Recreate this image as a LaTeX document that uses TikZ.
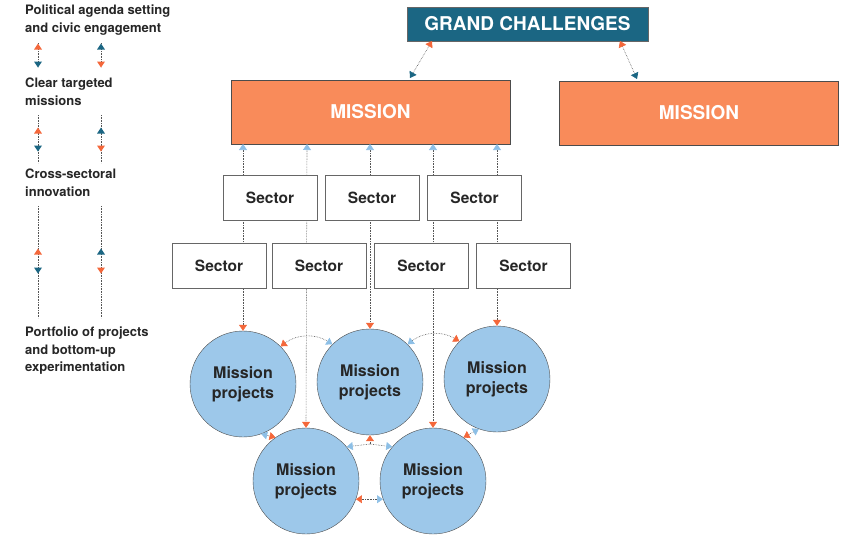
\documentclass[tikz,border=0pt]{standalone}
\usepackage{fontspec}
\setmainfont{TeX Gyre Heros}
\usetikzlibrary{arrows.meta}
\definecolor{org}{HTML}{F4673A}
\definecolor{mfill}{HTML}{F98B5A}
\definecolor{teal}{HTML}{1B6683}
\definecolor{lblue}{HTML}{8DBFE6}
\definecolor{cfill}{HTML}{9DC8EA}
\definecolor{dgray}{HTML}{555555}
\tikzset{
  x=1pt,y=-1pt,
  lbl/.style={anchor=north west,align=left,font=\bfseries\fontsize{13}{17.5}\selectfont,text=black!85,inner sep=0pt},
  mbox/.style={draw=black!70,fill=mfill,minimum width=279pt,minimum height=64pt,text=white,font=\bfseries\fontsize{19}{22}\selectfont},
  secbox/.style={draw=black!60,fill=white,minimum width=94pt,minimum height=45pt,font=\bfseries\fontsize{15.5}{18}\selectfont,text=black!85},
  proj/.style={circle,draw=black!70,fill=cfill,minimum size=106pt,inner sep=0pt,align=center,font=\bfseries\fontsize{16}{20}\selectfont,text=black!85},
  dl/.style={densely dotted,draw=dgray,line width=0.6pt},
  tO/.tip={Triangle[length=6pt,width=8pt,color=org]},
  tB/.tip={Triangle[length=6pt,width=8pt,color=lblue]},
  tT/.tip={Triangle[length=6pt,width=8pt,color=teal]},
}
\newcommand{\tup}[3]{\fill[#3] (#1-4,#2+2.5) -- (#1+4,#2+2.5) -- (#1,#2-3.5) -- cycle;}
\newcommand{\tdn}[3]{\fill[#3] (#1-4,#2-2.5) -- (#1+4,#2-2.5) -- (#1,#2+3.5) -- cycle;}
\begin{document}
\begin{tikzpicture}
\useasboundingbox (0,0) rectangle (850,536);
% left column
\node[lbl] (t1) at (25,5) {Political agenda setting\\and civic engagement};
\node[lbl] (t2) at (25,78) {Clear targeted\\missions};
\node[lbl] (t3) at (25,169) {Cross-sectoral\\innovation};
\node[lbl] (t4) at (25,327) {Portfolio of projects\\and bottom-up\\experimentation};
\foreach \ya/\yb/\p/\q in {43/67/47/64, 115/163/131/148, 206/318/252/270}{
  \draw[dl] (38,\ya) -- (38,\yb);
  \draw[dl] (101,\ya) -- (101,\yb);
  \tup{38}{\p}{org} \tdn{38}{\q}{teal}
  \tup{101}{\p}{teal} \tdn{101}{\q}{org}
}
% top
\node[draw=black!60,fill=teal,minimum width=241pt,minimum height=34pt,text=white,font=\bfseries\fontsize{19}{22}\selectfont] (gc) at (527.5,24) {GRAND CHALLENGES};
\node[mbox] (m1) at (370.5,112) {MISSION};
\node[mbox] (m2) at (699,113) {MISSION};
\coordinate (g1) at (432,41);
\coordinate (g2) at (620,41);
\coordinate (h1) at (410,78);
\coordinate (h2) at (637,79);
\draw[dl,tO-tT] (g1) -- (h1);
\draw[dl,tO-tT] (g2) -- (h2);
% circles
\node[proj] (c1) at (243,384) {Mission\\projects};
\node[proj] (c2) at (370,382) {Mission\\projects};
\node[proj] (c3) at (497,379) {Mission\\projects};
\node[proj] (c4) at (306,481) {Mission\\projects};
\node[proj] (c5) at (433,481) {Mission\\projects};
% verticals
\draw[dl,tB-tO] (243,144) -- (c1.north);
\draw[dl,tB-tO] (307,144) -- (c4.north);
\draw[dl,tB-tO] (370,144) -- (c2.north);
\draw[dl,tB-tO] (433,144) -- (c5.north);
\draw[dl,tB-tO] (497,144) -- (c3.north);
% sectors
\node[secbox] (s1) at (270,198) {Sector};
\node[secbox] (s2) at (372,198) {Sector};
\node[secbox] (s3) at (474.5,198) {Sector};
\node[secbox] (s4) at (219,266) {Sector};
\node[secbox] (s5) at (319,266) {Sector};
\node[secbox] (s6) at (421.5,266) {Sector};
\node[secbox] (s7) at (523.5,266) {Sector};
% links between circles
\draw[dl,tO-tB] (c1.45) to[bend left=35] (c2.135);
\draw[dl,tB-tO] (c2.45) to[bend left=35] (c3.135);
\draw[dl,tB-tO] (c1.-70) -- (c4.125);
\draw[dl,tB-tO] (c3.-110) -- (c5.55);
\coordinate (cc) at (370,444);
\draw[dl,-tB] (cc) -- (c4.40);
\draw[dl,-tB] (cc) -- (c5.140);
\draw[dl,-tO] (cc) -- (c2.south);
\draw[dl,tO-tB] (c4.-20) -- (c5.-160);
\end{tikzpicture}
\end{document}
